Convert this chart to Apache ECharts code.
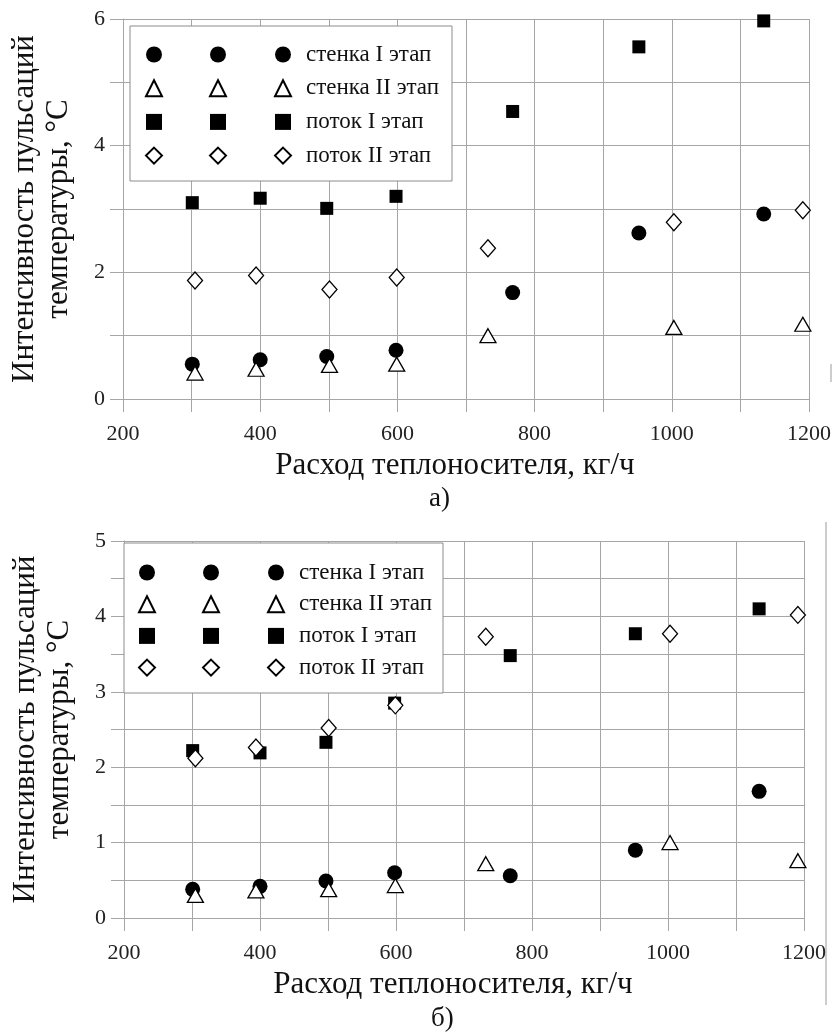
<!DOCTYPE html>
<html>
<head>
<meta charset="utf-8">
<script src="https://cdn.jsdelivr.net/npm/echarts@6/dist/echarts.min.js"></script>
<style>
  html, body { margin: 0; padding: 0; background: #fff; }
  #chart { width: 834px; height: 1036px; }
</style>
</head>
<body>
<div id="chart"></div>
<script>
// расход теплоносителя, кг/ч
var xStage1 = [301, 400, 497, 598, 768, 952, 1134];
var xStage2 = [305, 394, 501, 599, 732, 1003, 1191];

// график а)
var wallIA = [0.55, 0.62, 0.67, 0.77, 1.68, 2.62, 2.92];
var wallIIA = [0.41, 0.47, 0.53, 0.55, 1.0, 1.13, 1.18];
var flowIA = [3.1, 3.17, 3.01, 3.2, 4.54, 5.56, 5.97];
var flowIIA = [1.87, 1.95, 1.73, 1.92, 2.38, 2.79, 2.98];

// график б)
var wallIB = [0.38, 0.42, 0.49, 0.6, 0.56, 0.9, 1.68];
var wallIIB = [0.3, 0.36, 0.375, 0.43, 0.72, 1.0, 0.76];
var flowIB = [2.22, 2.19, 2.33, 2.85, 3.48, 3.77, 4.1];
var flowIIB = [2.12, 2.26, 2.52, 2.82, 3.73, 3.77, 4.02];

var names = ['стенка I этап', 'стенка II этап', 'поток I этап', 'поток II этап'];
var xName = 'Расход теплоносителя, кг/ч';
var yName = 'Интенсивность пульсаций\nтемпературы, °C';

var FONT = 'Liberation Serif';
var GRID_COLOR = '#a6a6a6';

function zip(xs, ys) {
  return xs.map(function (x, i) { return [x, ys[i]]; });
}

var styles = [
  { symbol: 'circle', symbolSize: 15, itemStyle: { color: '#000', opacity: 1 } },
  { symbol: 'triangle', symbolSize: [16, 14], itemStyle: { color: '#fff', borderColor: '#000', borderWidth: 1.3, opacity: 1 } },
  { symbol: 'rect', symbolSize: 13, itemStyle: { color: '#000', opacity: 1 } },
  { symbol: 'diamond', symbolSize: [15, 17], itemStyle: { color: '#fff', borderColor: '#000', borderWidth: 1.3, opacity: 1 } }
];

function makeSeries(idx, sets) {
  return sets.map(function (s, i) {
    return Object.assign({
      type: 'scatter',
      name: names[i],
      xAxisIndex: idx,
      yAxisIndex: idx,
      z: 5,
      data: zip(s[0], s[1])
    }, styles[i]);
  });
}

var series = makeSeries(0, [
  [xStage1, wallIA], [xStage2, wallIIA], [xStage1, flowIA], [xStage2, flowIIA]
]).concat(makeSeries(1, [
  [xStage1, wallIB], [xStage2, wallIIB], [xStage1, flowIB], [xStage2, flowIIB]
]));

function xAxis(idx) {
  return {
    type: 'value',
    gridIndex: idx,
    min: 200,
    max: 1200,
    interval: 100,
    name: xName,
    nameLocation: 'middle',
    nameGap: 51,
    nameTextStyle: { fontFamily: FONT, fontSize: 31, color: '#111', padding: [0, 22, 0, 0] },
    axisLine: { show: true, lineStyle: { color: GRID_COLOR } },
    axisTick: { show: true, length: 13, lineStyle: { color: GRID_COLOR } },
    axisLabel: {
      margin: 24,
      fontFamily: FONT,
      fontSize: 22,
      color: '#222',
      formatter: function (v) { return v % 200 === 0 ? v : ''; }
    },
    splitLine: { show: true, lineStyle: { color: GRID_COLOR, width: 1 } }
  };
}

function yAxis(idx, max, step) {
  return {
    type: 'value',
    gridIndex: idx,
    min: 0,
    max: max,
    interval: step,
    name: yName,
    nameLocation: 'middle',
    nameGap: 47,
    nameTextStyle: { fontFamily: FONT, fontSize: 31, lineHeight: 34, color: '#111' },
    axisLine: { show: true, lineStyle: { color: GRID_COLOR } },
    axisTick: { show: true, length: 13, lineStyle: { color: GRID_COLOR } },
    axisLabel: {
      margin: 18,
      fontFamily: FONT,
      fontSize: 22,
      color: '#222',
      formatter: function (v) {
        if (idx === 0) return v % 2 === 0 ? v : '';
        return v % 1 === 0 ? v : '';
      }
    },
    splitLine: { show: true, lineStyle: { color: GRID_COLOR, width: 1 } }
  };
}

// three columns of symbols in each legend box, text only in the last one
function legends(top, lefts, gap) {
  return lefts.map(function (left, j) {
    return {
      orient: 'vertical',
      left: left,
      top: top,
      padding: 0,
      itemGap: gap,
      itemWidth: 16,
      itemHeight: 16,
      selectedMode: false,
      data: names,
      textStyle: { fontFamily: FONT, fontSize: 23, lineHeight: 20, color: '#111', padding: [0, 0, 0, 10] },
      formatter: j === 2 ? '{name}' : ' '
    };
  });
}

var chart = echarts.init(document.getElementById('chart'));
chart.setOption({
  backgroundColor: '#fff',
  animation: false,
  grid: [
    { left: 123, right: 25, top: 19, height: 380 },
    { left: 124, right: 30, top: 541, height: 377 }
  ],
  xAxis: [xAxis(0), xAxis(1)],
  yAxis: [yAxis(0, 6, 1), yAxis(1, 5, 0.5)],
  legend: legends(43, [145, 209, 274], 10.7).concat(legends(561, [138, 202, 267], 8.7)),
  graphic: [
    { type: 'rect', z: 3, shape: { x: 130, y: 26, width: 322, height: 155 },
      style: { fill: '#fff', stroke: '#8c8c8c', lineWidth: 1 } },
    { type: 'rect', z: 3, shape: { x: 124, y: 543, width: 319, height: 150 },
      style: { fill: '#fff', stroke: '#8c8c8c', lineWidth: 1 } },
    { type: 'text', left: 429, top: 485,
      style: { text: 'а)', fontFamily: FONT, fontSize: 27, fill: '#111' } },
    { type: 'text', left: 431, top: 1005,
      style: { text: 'б)', fontFamily: FONT, fontSize: 27, fill: '#111' } },
    { type: 'line', shape: { x1: 826, y1: 522, x2: 826, y2: 1005 },
      style: { stroke: '#9a9a9a', lineWidth: 1 } },
    { type: 'line', shape: { x1: 831, y1: 364, x2: 831, y2: 382 },
      style: { stroke: '#9a9a9a', lineWidth: 1 } }
  ],
  series: series
});
</script>
</body>
</html>
